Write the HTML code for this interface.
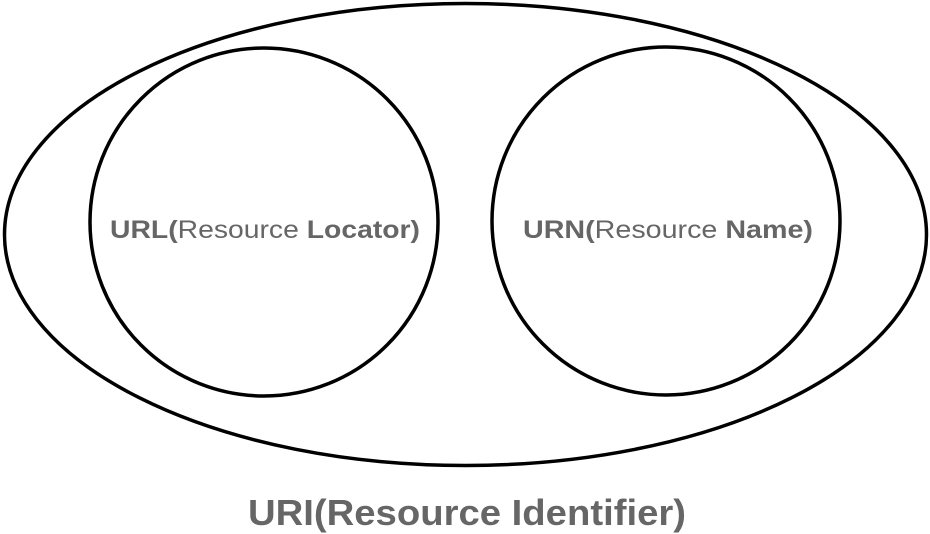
<!DOCTYPE html>
<html><head><style>body{margin:0;background:#fff}svg{display:block}</style></head><body>
<svg width="930" height="534" viewBox="0 0 930 534" xmlns="http://www.w3.org/2000/svg">
<g fill="none" stroke="#000" stroke-width="3.5">
<ellipse cx="465.5" cy="234.5" rx="461" ry="231"/>
<circle cx="264" cy="222" r="174"/>
<circle cx="666" cy="221" r="174"/>
</g>
<g font-family="Liberation Sans, sans-serif" fill="#666">
<text x="110" y="238" font-size="25" textLength="310" lengthAdjust="spacingAndGlyphs"><tspan font-weight="bold">URL(</tspan>Resource <tspan font-weight="bold">Locator)</tspan></text>
<text x="523" y="238" font-size="25" textLength="290" lengthAdjust="spacingAndGlyphs"><tspan font-weight="bold">URN(</tspan>Resource <tspan font-weight="bold">Name)</tspan></text>
<text x="248" y="525" font-size="36" font-weight="bold" textLength="438" lengthAdjust="spacingAndGlyphs">URI(Resource Identifier)</text>
</g>
</svg>
</body></html>
